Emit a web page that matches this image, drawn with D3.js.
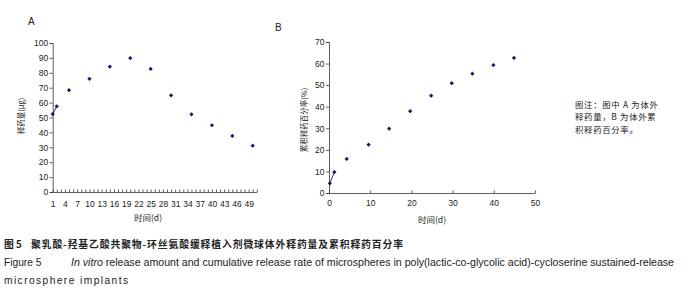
<!DOCTYPE html>
<html><head><meta charset="utf-8">
<script src="https://cdn.jsdelivr.net/npm/d3@7"></script>
<style>
html,body{margin:0;padding:0;background:#fff;}
svg{display:block;}
text{font-family:"Liberation Sans",Arial,sans-serif;fill:#222;}
.cjk{font-family:"Noto Sans CJK SC","Liberation Sans",sans-serif;}
</style></head>
<body>
<script>
// Panel A: release amount (μg)
const daysA = [1, 2, 5, 10, 15, 20, 25, 30, 35, 40, 45, 50];
const amountA = [52.3, 57.5, 68.3, 76, 84.1, 89.9, 82.6, 64.9, 52.1, 44.8, 37.6, 31.1];
const yTicksA = [0, 10, 20, 30, 40, 50, 60, 70, 80, 90, 100];
const xTicksA = d3.range(1, 52);
const xLabelsA = d3.range(1, 50, 3);

// Panel B: cumulative release rate (%)
const daysB = [0.2, 1.3, 4.3, 9.6, 14.6, 19.7, 24.8, 29.8, 34.8, 39.9, 44.9];
const rateB = [4.5, 9.7, 15.8, 22.4, 29.8, 37.9, 45.1, 50.9, 55.3, 59.3, 62.6];
const yTicksB = [0, 10, 20, 30, 40, 50, 60, 70];
const xTicksB = [0, 10, 20, 30, 40, 50];

const W = 690, H = 299;
const svg = d3.select("body").append("svg").attr("width", W).attr("height", H);
svg.append("rect").attr("width", W).attr("height", H).attr("fill", "#fff");

const axisColor = "#333";
const markColor = "#16166a";
const marker = d3.symbol().type(d3.symbolSquare).size(9);

function styleAxis(g) {
  g.select(".domain").attr("stroke", axisColor).attr("stroke-width", 0.8);
  g.selectAll(".tick line").attr("stroke", axisColor).attr("stroke-width", 0.8);
  g.selectAll(".tick text").attr("font-size", 8.5).attr("fill", "#222")
    .attr("font-family", "'Liberation Sans', Arial, sans-serif");
}

// ---------- Panel A ----------
const xA = d3.scaleLinear().domain([1, 51]).range([52.7, 256.8]);
const yA = d3.scaleLinear().domain([0, 100]).range([192, 43]);

const gAy = svg.append("g").attr("transform", `translate(${xA(1)},0)`)
  .call(d3.axisLeft(yA).tickValues(yTicksA).tickSize(3).tickPadding(1.5).tickFormat(d3.format("d")));
styleAxis(gAy);

const gAx = svg.append("g").attr("transform", `translate(0,${yA(0)})`)
  .call(d3.axisBottom(xA).tickValues(xTicksA).tickSize(-2.5).tickSizeOuter(0).tickPadding(9)
    .tickFormat(d => xLabelsA.includes(d) ? d : ""));
styleAxis(gAx);

svg.append("path")
  .attr("d", d3.line().x(d => xA(d[0])).y(d => yA(d[1]))([[daysA[0], amountA[0]], [daysA[1], amountA[1]]]))
  .attr("stroke", markColor).attr("stroke-width", 0.9).attr("fill", "none");
svg.append("g").selectAll("path").data(daysA.map((d, i) => [d, amountA[i]])).join("path")
  .attr("d", marker).attr("fill", markColor)
  .attr("transform", d => `translate(${xA(d[0])},${yA(d[1])}) rotate(45)`);

svg.append("text").attr("x", 28).attr("y", 25).attr("font-size", 10).text("A");
svg.append("text").attr("class", "cjk").attr("font-size", 7.5)
  .attr("transform", `translate(24,116) rotate(-90)`).attr("text-anchor", "middle").text("释药量(μg)");
svg.append("text").attr("class", "cjk").attr("font-size", 8.5)
  .attr("x", 148).attr("y", 221).attr("text-anchor", "middle").text("时间(d)");

// ---------- Panel B ----------
const xB = d3.scaleLinear().domain([0, 50]).range([329, 535]);
const yB = d3.scaleLinear().domain([0, 70]).range([193, 42]);

const gBy = svg.append("g").attr("transform", `translate(${xB(0)},0)`)
  .call(d3.axisLeft(yB).tickValues(yTicksB).tickSize(3).tickPadding(1.5).tickFormat(d3.format("d")));
styleAxis(gBy);

const gBx = svg.append("g").attr("transform", `translate(0,${yB(0)})`)
  .call(d3.axisBottom(xB).tickValues(xTicksB).tickSize(-2.5).tickSizeOuter(0).tickPadding(7).tickFormat(d3.format("d")));
styleAxis(gBx);

svg.append("path")
  .attr("d", d3.line().x(d => xB(d[0])).y(d => yB(d[1]))([[daysB[0], rateB[0]], [daysB[1], rateB[1]]]))
  .attr("stroke", markColor).attr("stroke-width", 0.9).attr("fill", "none");
svg.append("g").selectAll("path").data(daysB.map((d, i) => [d, rateB[i]])).join("path")
  .attr("d", marker).attr("fill", markColor)
  .attr("transform", d => `translate(${xB(d[0])},${yB(d[1])}) rotate(45)`);

svg.append("text").attr("x", 275).attr("y", 31).attr("font-size", 10).text("B");
svg.append("text").attr("class", "cjk").attr("font-size", 7.5)
  .attr("transform", `translate(307,120) rotate(-90)`).attr("text-anchor", "middle").text("累积释药百分率(%)");
svg.append("text").attr("class", "cjk").attr("font-size", 8.5)
  .attr("x", 432).attr("y", 223).attr("text-anchor", "middle").text("时间(d)");

// ---------- Note ----------
const noteLines = ["图注：图中 A 为体外", "释药量，B 为体外累", "积释药百分率。"];
svg.append("g").selectAll("text").data(noteLines).join("text")
  .attr("class", "cjk").attr("font-size", 8.4).attr("letter-spacing", 0.7)
  .attr("x", 575).attr("y", (d, i) => 108 + i * 12.3).text(d => d);

// ---------- Caption ----------
svg.append("text").attr("class", "cjk").attr("font-size", 9.8).attr("font-weight", "bold")
  .attr("x", 4).attr("y", 248).text("图 5");
svg.append("text").attr("class", "cjk").attr("font-size", 9.8).attr("font-weight", "bold")
  .attr("x", 31).attr("y", 248)
  .attr("textLength", 372).attr("lengthAdjust", "spacing")
  .text("聚乳酸-羟基乙酸共聚物-环丝氨酸缓释植入剂微球体外释药量及累积释药百分率");
svg.append("text").attr("font-size", 10.2).attr("x", 4).attr("y", 266).text("Figure 5");
const cap2 = svg.append("text").attr("font-size", 10.2).attr("x", 71).attr("y", 266)
  .attr("textLength", 603).attr("lengthAdjust", "spacingAndGlyphs");
cap2.append("tspan").attr("font-style", "italic").text("In vitro");
cap2.append("tspan")
  .text(" release amount and cumulative release rate of microspheres in poly(lactic-co-glycolic acid)-cycloserine sustained-release");
svg.append("text").attr("font-size", 10.2).attr("x", 4).attr("y", 284)
  .attr("textLength", 124).attr("lengthAdjust", "spacing").text("microsphere implants");
</script>
</body></html>
